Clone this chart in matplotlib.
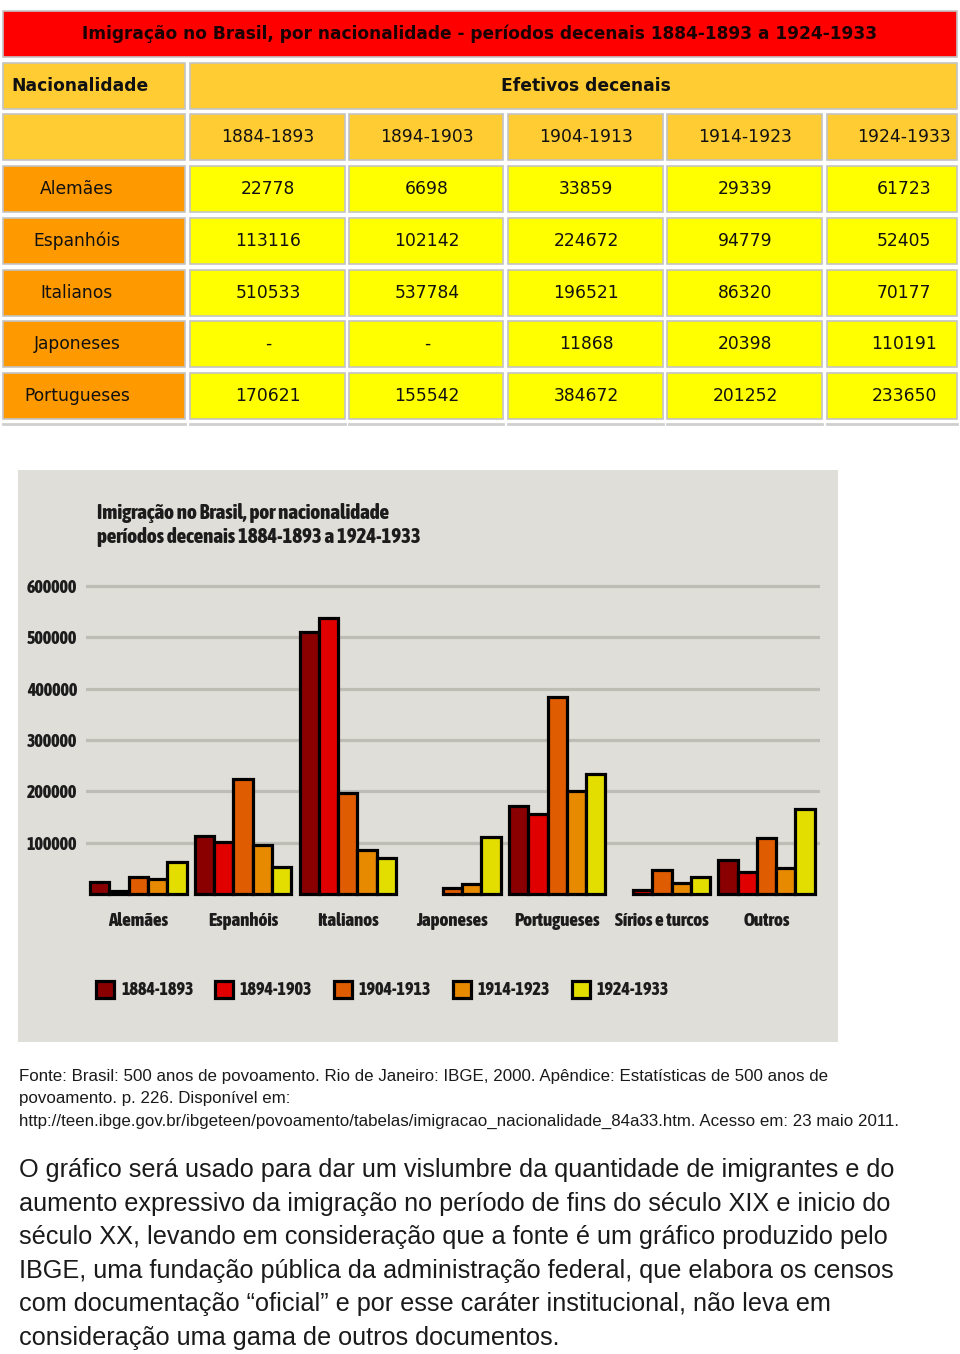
import matplotlib
matplotlib.use('Agg')
import matplotlib.pyplot as plt
import numpy as np
from matplotlib.patches import Rectangle, Patch
from matplotlib import font_manager
from matplotlib.font_manager import FontProperties

# Dados da tabela (IBGE)
periodos = ['1884-1893', '1894-1903', '1904-1913', '1914-1923', '1924-1933']
nacionalidades = ['Alemães', 'Espanhóis', 'Italianos', 'Japoneses', 'Portugueses']
alemaes = [22778, 6698, 33859, 29339, 61723]
espanhois = [113116, 102142, 224672, 94779, 52405]
italianos = [510533, 537784, 196521, 86320, 70177]
japoneses = [None, None, 11868, 20398, 110191]
portugueses = [170621, 155542, 384672, 201252, 233650]
# so aparecem no grafico (valores lidos das barras)
sirios_turcos = [None, 7000, 46000, 21000, 33000]
outros = [66000, 43000, 109000, 51000, 165000]

grupos = ['Alemães', 'Espanhóis', 'Italianos', 'Japoneses', 'Portugueses',
          'Sírios e turcos', 'Outros']
series_tabela = [alemaes, espanhois, italianos, japoneses, portugueses]
series_grafico = series_tabela + [sirios_turcos, outros]
cores = ['#8a0000', '#e00000', '#e05c00', '#e88a00', '#e3de00']
yticks = [100000, 200000, 300000, 400000, 500000, 600000]

titulo = 'Imigração no Brasil, por nacionalidade - períodos decenais 1884-1893 a 1924-1933'
fonte = ['Fonte: Brasil: 500 anos de povoamento. Rio de Janeiro: IBGE, 2000. Apêndice: Estatísticas de 500 anos de',
         'povoamento. p. 226. Disponível em:',
         'http://teen.ibge.gov.br/ibgeteen/povoamento/tabelas/imigracao_nacionalidade_84a33.htm. Acesso em: 23 maio 2011.']
paragrafo = ['O gráfico será usado para dar um vislumbre da quantidade de imigrantes e do',
             'aumento expressivo da imigração no período de fins do século XIX e inicio do',
             'século XX, levando em consideração que a fonte é um gráfico produzido pelo',
             'IBGE, uma fundação pública da administração federal, que elabora os censos',
             'com documentação “oficial” e por esse caráter institucional, não leva em',
             'consideração uma gama de outros documentos.']

PESOS = {'ultralight': 100, 'light': 300, 'normal': 400, 'regular': 400, 'book': 400,
         'medium': 500, 'semibold': 600, 'demibold': 600, 'bold': 700,
         'heavy': 800, 'extra bold': 800, 'black': 900}
LARGURAS = {'condensed': 0, 'semi-condensed': 1, 'extra-condensed': 2}


def peso(f):
    return f.weight if isinstance(f.weight, int) else PESOS.get(str(f.weight).lower(), 400)


def fonte_condensada():
    # o grafico original usa uma fonte estreita e pesada
    cands = [f for f in font_manager.fontManager.ttflist
             if ('Narrow' in f.name or 'Condensed' in f.name
                 or f.stretch in LARGURAS)
             and f.style == 'normal']
    if cands:
        melhor = min(cands, key=lambda f: (LARGURAS.get(f.stretch, 1), abs(peso(f) - 800)))
        return dict(fname=melhor.fname)
    return dict(family='Roboto', weight='bold')


cond = fonte_condensada()

fig = plt.figure(figsize=(9.6, 13.54), dpi=100)
rend = fig.canvas.get_renderer()


def fp(size, **props):
    return FontProperties(size=size, **props)


def tamanho(texto, largura_px, **props):
    # tamanho de fonte que deixa o texto com a largura pedida
    w, _, _ = rend.get_text_width_height_descent(texto, fp(10, **props), ismath=False)
    return 10 * largura_px / w


page = fig.add_axes([0, 0, 1, 1])
page.set_xlim(0, 960)
page.set_ylim(1354, 0)
page.axis('off')

# ---- tabela ----
col_l = [3, 190, 349, 508, 667, 827]
col_r = [185, 345, 503, 663, 822, 957]
col_c = [77, 268, 427, 586, 745, 904]
row_t = [11 + 51.7 * k for k in range(9)]
h = 46


def cell(x0, x1, y0, cor):
    page.add_patch(Rectangle((x0, y0), x1 - x0, h, facecolor=cor,
                             edgecolor='#c4c4c4', lw=1.2))


fs_tit = tamanho(titulo, 795, family='DejaVu Sans', weight='bold')
fs_tab = tamanho('1884-1893', 93, family='DejaVu Sans')

cell(3, 957, row_t[0], '#ff0000')
page.text(480, row_t[0] + h / 2, titulo, ha='center', va='center',
          fontsize=fs_tit, weight='bold', color='#1a0000')

cell(col_l[0], col_r[0], row_t[1], '#ffcc33')
cell(col_l[1], 957, row_t[1], '#ffcc33')
page.text(11, row_t[1] + h / 2, 'Nacionalidade', ha='left', va='center',
          fontsize=fs_tab, weight='bold', color='#111')
page.text(586, row_t[1] + h / 2, 'Efetivos decenais', ha='center', va='center',
          fontsize=fs_tab, weight='bold', color='#111')

cell(col_l[0], col_r[0], row_t[2], '#ffcc33')
for j, p in enumerate(periodos):
    cell(col_l[j + 1], col_r[j + 1], row_t[2], '#ffcc33')
    page.text(col_c[j + 1], row_t[2] + h / 2, p, ha='center', va='center',
              fontsize=fs_tab, color='#111')

for i, nome in enumerate(nacionalidades):
    y0 = row_t[3 + i]
    cell(col_l[0], col_r[0], y0, '#ff9900')
    page.text(col_c[0], y0 + h / 2, nome, ha='center', va='center',
              fontsize=fs_tab, color='#111')
    for j, v in enumerate(series_tabela[i]):
        cell(col_l[j + 1], col_r[j + 1], y0, '#ffff00')
        page.text(col_c[j + 1], y0 + h / 2, '-' if v is None else str(v),
                  ha='center', va='center', fontsize=fs_tab, color='#111')

# inicio da linha seguinte (cortada)
for x0, x1 in zip(col_l, col_r):
    page.plot([x0, x1], [424, 424], color='#cfcfcf', lw=2)

# ---- grafico ----
page.add_patch(Rectangle((18, 470), 820, 572, facecolor='#dfded8', edgecolor='none'))
fs_gtit = tamanho('Imigração no Brasil, por nacionalidade', 292, **cond)
for yy, linha in [(513, 'Imigração no Brasil, por nacionalidade'),
                  (537, 'períodos decenais 1884-1893 a 1924-1933')]:
    page.text(97, yy, linha, ha='left', va='center', color='#1c1c1c',
              fontproperties=fp(fs_gtit, **cond))

ymax = 640000
px_por_unid = (894 - 586) / 600000
topo = 894 - ymax * px_por_unid
ax = fig.add_axes([86 / 960, (1354 - 894) / 1354, 734 / 960, (894 - topo) / 1354])
ax.set_facecolor('none')
w = 0.184
x = np.arange(len(grupos))
for j, p in enumerate(periodos):
    xs, hs = [], []
    for g, serie in enumerate(series_grafico):
        if serie[j] is not None:
            xs.append(x[g] + (j - 2) * w)
            hs.append(serie[j])
    ax.bar(xs, hs, width=w, color=cores[j], edgecolor='black', linewidth=2.3,
           zorder=3, clip_on=False)

fs_y = tamanho('600000', 50, **cond)
fs_x = tamanho('Sírios e turcos', 93, **cond)
ax.set_xlim(-0.5, 6.51)
ax.set_ylim(0, ymax)
ax.set_yticks(yticks)
ax.set_yticklabels([str(t) for t in yticks], color='#1c1c1c', fontproperties=fp(fs_y, **cond))
ax.set_xticks(x)
ax.set_xticklabels(grupos, color='#1c1c1c', fontproperties=fp(fs_x, **cond))
ax.tick_params(axis='y', length=0, pad=6.5)
ax.tick_params(axis='x', length=0, pad=13)
ax.grid(axis='y', color='#bdbcb5', lw=2.3)
ax.set_axisbelow(True)
for s in ax.spines.values():
    s.set_visible(False)

# legenda: caixas de 18 px, passo de ~119.5 px
fs_leg = tamanho('1884-1893', 73, **cond)
em = fs_leg * 100 / 72
handles = [Patch(facecolor=c, edgecolor='black', lw=2.3, label=p)
           for c, p in zip(cores, periodos)]
leg = ax.legend(handles=handles, ncol=5, loc='center left',
                bbox_to_anchor=(96 / 960, 1 - 990 / 1354), bbox_transform=fig.transFigure,
                frameon=False, handlelength=18 / em, handleheight=20 / em,
                handletextpad=7 / em, columnspacing=21.5 / em,
                borderpad=0, borderaxespad=0, prop=fp(fs_leg, **cond))
for t in leg.get_texts():
    t.set_color('#1c1c1c')

# ---- textos ----
fs_fonte = tamanho(fonte[0], 807, family='Liberation Sans')
fs_par = tamanho(paragrafo[0], 878, family='Liberation Sans')
for k, linha in enumerate(fonte):
    page.text(19, 1077 + 22 * k, linha, ha='left', va='center',
              fontsize=fs_fonte, family='Liberation Sans', color='#1a1a1a')
for k, linha in enumerate(paragrafo):
    page.text(19, 1170 + 33.6 * k, linha, ha='left', va='center',
              fontsize=fs_par, family='Liberation Sans', color='#1a1a1a')

fig.savefig('out.png', dpi=100, facecolor='white')
